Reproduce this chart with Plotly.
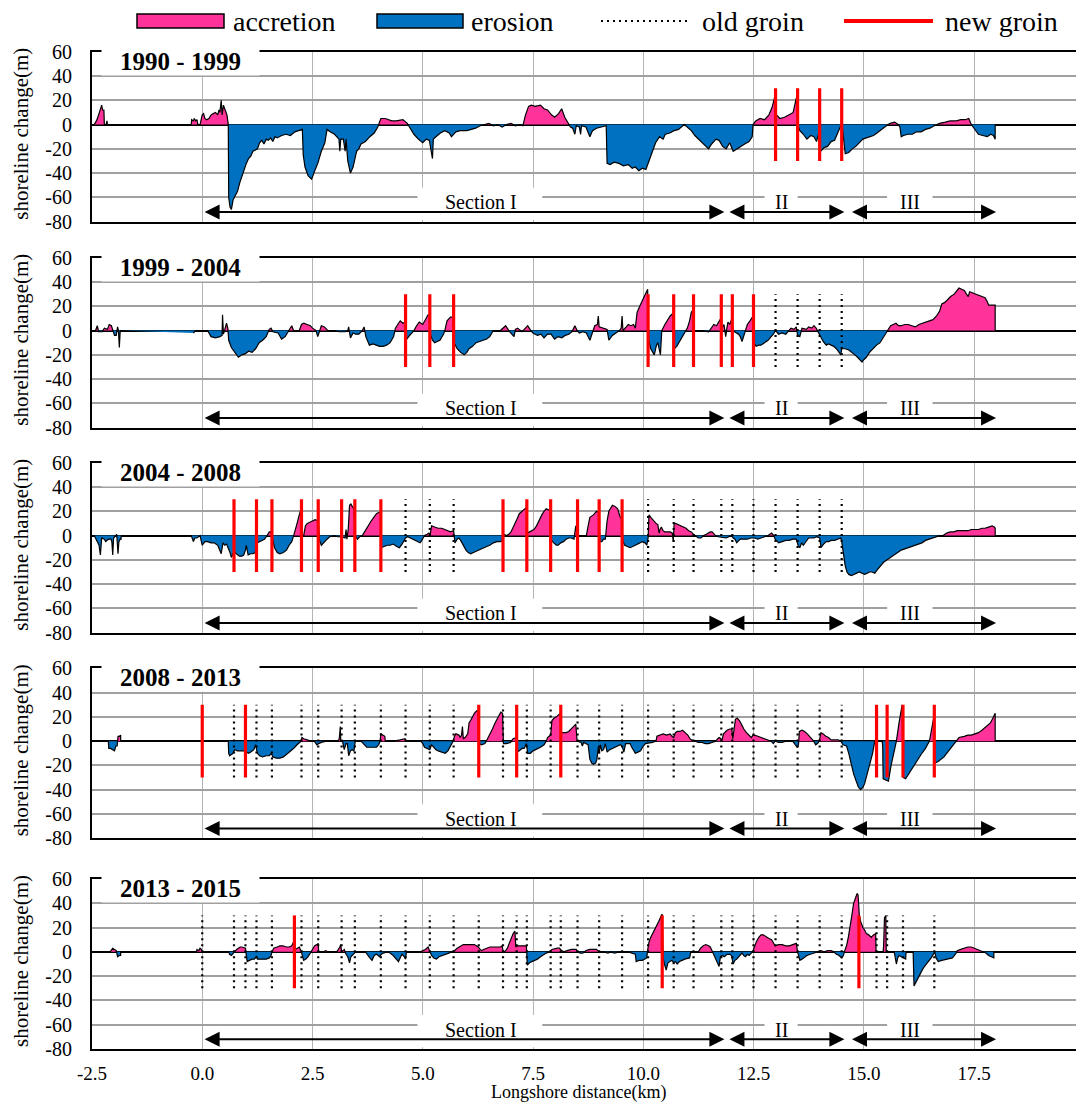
import plotly.graph_objects as go

# ---------------------------------------------------------------- data
PERIODS = ["1990 - 1999", "1999 - 2004", "2004 - 2008", "2008 - 2013", "2013 - 2015"]

# (longshore distance km, shoreline change m) — one list per data segment
s9099_a = [(-2.45,0),(-2.4,3),(-2.35,8),(-2.3,15),(-2.28,16),(-2.26,12),(-2.23,12),(-2.22,0),(-2.18,0),(-2.16,3),(-2.15,0)]
s9099_b = [(-0.25,0),(-0.24,4),(-0.2,3),(-0.18,5),(-0.15,3),(-0.12,4),(-0.1,0),(-0.05,0),(0.0,8),(0.03,9),(0.06,5),(0.1,4),(0.15,5),
           (0.2,8),(0.25,9),(0.3,10),(0.35,8),(0.38,12),(0.4,10),(0.43,20),(0.45,8),(0.48,16),(0.52,12),(0.56,8),(0.59,0),(0.6,-60),
           (0.63,-68),(0.66,-70),(0.7,-62),(0.75,-58),(0.8,-55),(0.85,-48),(0.9,-42),(0.95,-36),(1.0,-32),(1.05,-28),(1.1,-26),
           (1.15,-22),(1.2,-21),(1.25,-20),(1.3,-15),(1.35,-13),(1.4,-16),(1.45,-12),(1.5,-13),(1.55,-11),(1.6,-14),(1.65,-10),
           (1.7,-11),(1.8,-9),(1.9,-8),(2.0,-9),(2.1,-6),(2.2,-5),(2.27,-4),(2.29,-25),(2.33,-35),(2.4,-42),(2.48,-45),(2.55,-38),
           (2.62,-32),(2.7,-22),(2.78,-15),(2.83,-4),(2.9,-6),(3.0,-8),(3.05,-10),(3.1,-12),(3.12,-22),(3.14,-12),(3.2,-12),
           (3.24,-22),(3.26,-12),(3.3,-30),(3.36,-40),(3.42,-35),(3.5,-22),(3.55,-20),(3.6,-16),(3.7,-14),(3.8,-10),(3.9,-7),
           (3.98,-2),(4.05,5),(4.15,5),(4.3,3),(4.4,3),(4.55,4),(4.65,1),(4.72,-3),(4.8,-8),(4.9,-12),(5.0,-15),(5.08,-12),
           (5.15,-13),(5.22,-28),(5.24,-12),(5.3,-10),(5.4,-7),(5.5,-5),(5.6,-7),(5.65,-10),(5.75,-6),(5.85,-5),(6.0,-5),(6.1,-4),
           (6.2,-3),(6.3,-1),(6.4,0),(6.5,1),(6.6,-1),(6.7,0),(6.8,-2),(6.9,0),(7.0,1),(7.1,-1),(7.2,0),(7.27,-1),(7.33,8),(7.4,15),
           (7.46,16),(7.55,15),(7.67,16),(7.75,13),(7.83,12),(7.92,8),(7.99,6),(8.08,9),(8.15,13),(8.22,6),(8.3,1),(8.35,-2),
           (8.4,-3),(8.45,-8),(8.48,-1),(8.55,-2),(8.58,-8),(8.6,-1),(8.7,-2),(8.79,-10),(8.85,-5),(8.94,-3),(9.05,-2),(9.16,-1),
           (9.18,-32),(9.25,-33),(9.34,-31),(9.45,-32),(9.55,-34),(9.66,-33),(9.75,-36),(9.82,-35),(9.9,-38),(9.98,-36),(10.06,-37),
           (10.13,-30),(10.2,-22),(10.28,-15),(10.37,-10),(10.45,-12),(10.5,-8),(10.6,-7),(10.7,-5),(10.8,-4),(10.93,0),(11.0,-2),
           (11.09,-5),(11.17,-9),(11.25,-12),(11.35,-15),(11.48,-20),(11.55,-16),(11.65,-12),(11.72,-13),(11.8,-18),(11.88,-20),
           (11.96,-15),(12.04,-22),(12.12,-20),(12.2,-18),(12.3,-16),(12.4,-14),(12.47,-10),(12.49,0),(12.55,3),(12.65,5),
           (12.75,4),(12.85,8),(12.92,14),(12.99,24),(13.02,8),(13.1,5),(13.2,6),(13.31,8),(13.4,10),(13.47,22),(13.5,0),
           (13.55,-5),(13.63,-8),(13.71,-12),(13.8,-9),(13.87,-10),(13.93,-14),(13.97,-8),(14.02,-22),(14.1,-19),(14.18,-18),
           (14.26,-14),(14.34,-13),(14.42,-6),(14.48,-1),(14.52,-4),(14.58,-24),(14.66,-23),(14.74,-20),(14.82,-18),(14.9,-15),
           (14.98,-12),(15.06,-11),(15.14,-10),(15.22,-9),(15.3,-7),(15.4,-4),(15.5,-1),(15.6,1),(15.7,2),(15.78,0),(15.82,-2),
           (15.85,-10),(15.9,-9),(16.0,-8),(16.1,-8),(16.2,-6),(16.3,-6),(16.4,-4),(16.5,-3),(16.6,-1),(16.72,1),(16.85,2),
           (16.96,3),(17.1,3),(17.2,4),(17.3,4),(17.38,5),(17.44,0),(17.5,-3),(17.6,-8),(17.7,-9),(17.8,-10),(17.88,-8),
           (17.94,-9),(17.98,-12),(17.98,0)]

s9904_a = [(-2.45,0),(-2.42,0),(-2.38,4),(-2.35,-1),(-2.27,-1),(-2.22,2),(-2.15,1),(-2.11,5),(-2.06,4),(-2.03,0),(-1.99,-4),
           (-1.95,-4),(-1.92,3),(-1.9,0),(-1.88,-14),(-1.86,0)]
s9904_b = [(-0.2,-2),(-0.15,0),(0.0,0),(0.12,0),(0.2,-5),(0.3,-6),(0.4,-5),(0.45,-4),(0.46,13),(0.48,-3),(0.52,2),(0.55,6),
           (0.58,2),(0.6,-8),(0.66,-14),(0.74,-18),(0.82,-22),(0.9,-20),(0.98,-19),(1.05,-17),(1.13,-18),(1.21,-15),(1.29,-10),
           (1.37,-8),(1.45,-5),(1.52,1),(1.56,2),(1.6,-1),(1.72,-2),(1.8,-7),(1.88,-5),(1.95,-1),(2.0,2),(2.03,4),(2.07,0),
           (2.2,0),(2.25,5),(2.3,6),(2.38,5),(2.45,4),(2.5,2),(2.58,0),(2.62,-5),(2.67,1),(2.7,4),(2.77,3),(2.85,0),(3.0,0),
           (3.1,-1),(3.24,-1),(3.3,0),(3.32,3),(3.36,-6),(3.42,-2),(3.48,-3),(3.55,-3),(3.63,0),(3.67,3),(3.71,-5),(3.79,-12),
           (3.87,-11),(3.95,-12),(4.02,-13),(4.1,-13),(4.18,-12),(4.26,-10),(4.34,-5),(4.38,2),(4.45,6),(4.49,8),(4.55,6),
           (4.6,7),(4.62,-8),(4.68,-5),(4.73,-3),(4.8,0),(4.86,4),(4.92,7),(5.0,5),(5.06,9),(5.12,13),(5.15,13),(5.17,-3),
           (5.22,-8),(5.27,-10),(5.33,-9),(5.39,-8),(5.47,-3),(5.5,0),(5.55,8),(5.63,11),(5.69,11),(5.71,-10),(5.78,-15),
           (5.86,-18),(5.94,-20),(6.0,-18),(6.05,-15),(6.13,-13),(6.21,-10),(6.3,-9),(6.37,-8),(6.45,-7),(6.52,-5),(6.6,0),
           (6.76,0),(6.82,2),(6.88,4),(6.95,0),(6.99,-2),(7.07,-5),(7.1,1),(7.15,2),(7.25,-1),(7.3,1),(7.38,4),(7.45,0),
           (7.5,-2),(7.6,-4),(7.68,-3),(7.75,-6),(7.83,-3),(7.91,-3),(7.99,-7),(8.07,-5),(8.15,-6),(8.23,-4),(8.31,-3),
           (8.38,-1),(8.45,4),(8.5,0),(8.55,-2),(8.63,-1),(8.71,-2),(8.79,-8),(8.84,-2),(8.9,4),(8.96,5),(8.98,12),(9.0,3),
           (9.1,2),(9.18,1),(9.22,-8),(9.3,-4),(9.38,-2),(9.46,0),(9.5,2),(9.52,12),(9.54,0),(9.6,3),(9.66,5),(9.72,4),
           (9.78,5),(9.82,2),(9.86,15),(9.92,20),(9.98,25),(10.04,30),(10.1,34),(10.12,-8),(10.17,-15),(10.25,-20),(10.3,-12),
           (10.33,-10),(10.39,-20),(10.42,0),(10.49,5),(10.55,9),(10.61,12),(10.67,14),(10.7,-15),(10.76,-13),(10.81,-10),
           (10.87,-6),(10.93,-3),(11.0,2),(11.05,8),(11.09,15),(11.13,17),(11.15,0),(11.33,0),(11.48,-1),(11.55,2),(11.6,5),
           (11.66,4),(11.72,8),(11.76,10),(11.78,2),(11.83,5),(11.87,-5),(11.9,4),(11.92,7),(11.96,5),(12.01,10),(12.03,0),
           (12.08,-1),(12.16,-3),(12.2,-5),(12.24,-9),(12.3,-2),(12.36,5),(12.42,8),(12.49,12),(12.51,-10),(12.56,-13),
           (12.62,-12),(12.67,-12),(12.75,-10),(12.83,-8),(12.9,-5),(12.95,-3),(13.0,0),(13.07,-3),(13.15,-2),(13.23,-3),
           (13.3,0),(13.35,2),(13.42,1),(13.47,3),(13.5,-4),(13.55,-5),(13.6,2),(13.7,1),(13.75,3),(13.82,2),(13.87,4),
           (13.92,2),(13.95,0),(14.03,-5),(14.08,-9),(14.15,-12),(14.2,-11),(14.26,-12),(14.32,-13),(14.38,-15),(14.44,-18),
           (14.48,-20),(14.5,-15),(14.58,-15),(14.66,-16),(14.74,-18),(14.8,-20),(14.86,-22),(14.92,-25),(14.96,-26),(15.0,-24),
           (15.06,-22),(15.13,-18),(15.21,-15),(15.29,-12),(15.37,-10),(15.45,-5),(15.53,0),(15.58,3),(15.61,4),(15.67,5),
           (15.73,6),(15.79,4),(15.85,4),(15.93,5),(16.01,5),(16.09,4),(16.17,3),(16.25,5),(16.33,6),(16.41,7),(16.49,8),
           (16.57,9),(16.65,12),(16.72,16),(16.77,22),(16.83,23),(16.89,25),(16.97,28),(17.05,30),(17.11,33),(17.16,35),
           (17.22,34),(17.28,33),(17.33,30),(17.37,28),(17.4,32),(17.48,31),(17.56,30),(17.64,29),(17.7,28),(17.75,27),
           (17.8,24),(17.83,21),(17.9,21),(17.98,21),(17.98,0)]

s0408_a = [(-2.45,0),(-2.42,-2),(-2.37,-5),(-2.34,-8),(-2.31,-16),(-2.28,-2),(-2.22,-3),(-2.19,-5),(-2.13,-3),(-2.07,-3),
           (-2.05,-5),(-2.03,-16),(-2.01,-2),(-1.97,0),(-1.94,1),(-1.91,-15),(-1.89,-5),(-1.86,-3),(-1.84,-3),(-1.84,0)]
s0408_b = [(-0.25,0),(-0.23,-3),(-0.2,-5),(-0.17,-2),(-0.12,-2),(-0.05,0),(0.0,-8),(0.06,-5),(0.12,-5),(0.2,-6),(0.27,-6),
           (0.35,-8),(0.43,-15),(0.47,-6),(0.51,-8),(0.55,-7),(0.59,-10),(0.63,-14),(0.66,-18),(0.7,-15),(0.74,-14),(0.78,-15),
           (0.84,-17),(0.9,-17),(0.94,-16),(0.98,-12),(1.0,-8),(1.04,-16),(1.1,-15),(1.15,-15),(1.2,-14),(1.24,-6),(1.29,-5),
           (1.35,-4),(1.41,-3),(1.47,0),(1.52,3),(1.56,3),(1.6,-5),(1.64,-10),(1.7,-14),(1.76,-15),(1.84,-14),(1.91,-12),
           (1.97,-8),(2.03,-5),(2.09,2),(2.15,10),(2.2,17),(2.24,22),(2.27,0),(2.3,0),(2.34,8),(2.38,10),(2.44,11),(2.5,12),
           (2.56,13),(2.63,12),(2.66,-4),(2.7,-8),(2.77,-5),(2.83,-3),(2.89,-1),(3.0,0),(3.06,-1),(3.16,-1),(3.24,-2),
           (3.26,5),(3.28,-3),(3.31,5),(3.34,25),(3.37,26),(3.4,24),(3.44,22),(3.47,0),(3.52,-3),(3.57,-1),(3.63,0),(3.68,3),
           (3.71,5),(3.77,8),(3.83,12),(3.89,15),(3.95,18),(4.0,19),(4.04,19),(4.06,-10),(4.12,-9),(4.2,-8),(4.26,-8),
           (4.33,-7),(4.41,-9),(4.47,-10),(4.53,-7),(4.58,-4),(4.61,-2),(4.66,-1),(4.72,-2),(4.77,-3),(4.83,-4),(4.88,-5),
           (4.94,-6),(4.98,-4),(5.04,0),(5.1,1),(5.14,2),(5.17,1),(5.2,8),(5.27,7),(5.35,6),(5.43,6),(5.51,5),(5.57,4),
           (5.63,3),(5.7,4),(5.73,-6),(5.78,-3),(5.82,-2),(5.86,-4),(5.92,-8),(5.98,-12),(6.03,-14),(6.09,-15),(6.15,-14),
           (6.21,-13),(6.3,-11),(6.37,-10),(6.45,-9),(6.52,-8),(6.6,-6),(6.68,-5),(6.76,-5),(6.81,-4),(6.84,1),(6.9,0),
           (6.95,1),(7.0,3),(7.07,8),(7.13,13),(7.19,18),(7.25,20),(7.3,22),(7.35,23),(7.37,2),(7.42,3),(7.47,4),(7.52,5),
           (7.58,8),(7.63,12),(7.7,17),(7.75,20),(7.8,22),(7.86,21),(7.89,21),(7.92,-4),(7.97,-6),(8.03,-8),(8.07,-8),
           (8.13,-6),(8.19,-5),(8.25,-3),(8.31,-2),(8.37,-2),(8.43,-3),(8.47,8),(8.5,0),(8.71,0),(8.75,8),(8.79,15),(8.87,17),
           (8.94,20),(8.99,19),(9.02,-5),(9.06,-5),(9.1,-3),(9.14,-3),(9.18,12),(9.22,20),(9.26,23),(9.3,25),(9.36,24),
           (9.42,22),(9.48,15),(9.51,14),(9.54,-5),(9.58,-8),(9.64,-9),(9.7,-10),(9.76,-9),(9.82,-8),(9.9,-6),(9.98,-5),
           (10.04,-6),(10.08,-8),(10.11,-2),(10.13,17),(10.17,15),(10.21,13),(10.25,12),(10.29,10),(10.33,9),(10.36,2),
           (10.38,5),(10.41,7),(10.45,4),(10.49,3),(10.61,3),(10.66,2),(10.68,-5),(10.7,10),(10.73,10),(10.79,9),(10.85,8),
           (10.91,7),(10.97,6),(11.03,4),(11.09,3),(11.14,1),(11.17,0),(11.25,-2),(11.31,-2),(11.37,0),(11.43,1),(11.48,2),
           (11.52,3),(11.56,3),(11.6,1),(11.64,0),(11.7,-1),(11.82,-2),(11.88,-2),(11.94,-1),(12.0,0),(12.04,-2),(12.08,-3),
           (12.12,-6),(12.16,-4),(12.2,-3),(12.36,-3),(12.44,-2),(12.52,-2),(12.6,-3),(12.67,-2),(12.75,-1),(12.83,0),
           (12.91,2),(12.96,0),(12.99,-3),(13.03,-5),(13.07,-6),(13.15,-5),(13.23,-4),(13.31,-4),(13.39,-3),(13.47,-3),
           (13.51,-8),(13.55,-10),(13.59,-6),(13.63,-8),(13.69,-5),(13.75,-2),(13.87,-2),(13.93,-1),(14.0,-2),(14.03,-10),
           (14.09,-7),(14.15,-5),(14.2,-5),(14.27,-4),(14.34,-4),(14.41,-3),(14.48,-2),(14.5,-5),(14.54,-15),(14.58,-25),
           (14.62,-30),(14.66,-32),(14.72,-33),(14.78,-32),(14.84,-31),(14.9,-30),(14.96,-31),(15.02,-32),(15.08,-31),
           (15.13,-30),(15.19,-30),(15.25,-31),(15.31,-28),(15.37,-25),(15.45,-22),(15.53,-20),(15.61,-18),(15.69,-16),
           (15.77,-14),(15.85,-12),(15.93,-11),(16.0,-10),(16.08,-9),(16.16,-8),(16.24,-7),(16.32,-6),(16.4,-4),(16.48,-3),
           (16.56,-2),(16.64,-1),(16.72,0),(16.8,0),(16.88,2),(16.96,3),(17.04,3),(17.12,4),(17.28,4),(17.36,4),(17.44,5),
           (17.6,5),(17.68,6),(17.75,6),(17.83,7),(17.91,8),(17.96,7),(17.98,6),(17.98,0)]

s0813_a = [(-2.13,0),(-2.12,-6),(-2.08,-6),(-2.04,-7),(-1.99,-8),(-1.96,-4),(-1.93,-4),(-1.92,0),(-1.91,4),(-1.88,4),
           (-1.85,5),(-1.85,0)]
s0813_b = [(0.59,0),(0.6,-10),(0.62,-12),(0.66,-11),(0.7,-10),(0.72,-8),(0.74,-7),(0.8,-8),(0.98,-8),(1.0,-9),(1.05,-10),
           (1.1,-9),(1.17,-7),(1.21,-3),(1.23,-6),(1.25,-10),(1.3,-12),(1.37,-13),(1.45,-12),(1.52,-12),(1.57,-10),(1.6,-13),
           (1.68,-14),(1.76,-14),(1.84,-13),(1.91,-11),(1.99,-8),(2.07,-6),(2.15,-3),(2.22,-1),(2.24,0),(2.26,3),(2.3,2),
           (2.38,1),(2.46,0),(2.54,0),(2.58,-2),(2.6,-3),(2.64,-2),(2.7,-1),(2.81,0),(3.09,0),(3.11,3),(3.13,12),(3.14,0),
           (3.18,0),(3.22,-7),(3.26,-2),(3.29,-2),(3.32,-12),(3.36,-8),(3.4,-7),(3.44,-8),(3.47,0),(3.6,0),(3.67,-3),
           (3.73,-5),(3.87,-5),(3.95,-5),(4.0,-3),(4.03,-1),(4.05,6),(4.1,5),(4.14,4),(4.15,0),(4.34,0),(4.49,1),(4.6,2),
           (4.62,0),(4.96,0),(5.0,-2),(5.04,-5),(5.1,-6),(5.16,-7),(5.2,-3),(5.24,-5),(5.3,-7),(5.35,-8),(5.43,-9),(5.51,-10),
           (5.57,-8),(5.62,-5),(5.68,-1),(5.72,4),(5.75,6),(5.82,5),(5.85,3),(5.88,5),(5.9,12),(5.92,2),(5.96,3),(6.02,6),
           (6.05,15),(6.1,18),(6.17,23),(6.22,25),(6.26,25),(6.28,-2),(6.33,-3),(6.41,-2),(6.47,2),(6.52,5),(6.58,10),
           (6.64,15),(6.7,19),(6.77,24),(6.81,23),(6.83,-2),(6.9,-2),(6.99,-1),(7.05,2),(7.12,3),(7.14,-9),(7.19,-8),
           (7.25,-6),(7.3,-6),(7.35,-2),(7.38,-10),(7.44,-10),(7.5,-8),(7.56,-7),(7.62,-6),(7.67,-5),(7.75,-3),(7.8,0),
           (7.83,3),(7.9,5),(7.93,17),(7.98,19),(8.03,20),(8.08,22),(8.12,23),(8.14,7),(8.25,7),(8.31,8),(8.36,10),(8.41,12),
           (8.47,14),(8.5,0),(8.59,-1),(8.62,-4),(8.65,-1),(8.75,-3),(8.79,-15),(8.83,-18),(8.87,-19),(8.92,-18),(8.95,-15),
           (8.98,-5),(9.0,-10),(9.03,-3),(9.06,-8),(9.1,-7),(9.14,-2),(9.18,-9),(9.24,-7),(9.3,-6),(9.36,-5),(9.42,-4),
           (9.48,-3),(9.52,-4),(9.56,-9),(9.6,-2),(9.7,-2),(9.74,-5),(9.78,-8),(9.82,-10),(9.88,-9),(9.94,-8),(10.0,-4),
           (10.05,-2),(10.21,-1),(10.29,0),(10.31,4),(10.37,5),(10.45,6),(10.53,5),(10.61,6),(10.65,4),(10.69,3),(10.73,7),
           (10.77,8),(10.83,8),(10.89,9),(10.95,7),(11.01,5),(11.06,2),(11.09,1),(11.17,0),(11.25,-1),(11.33,-1),(11.41,-2),
           (11.48,-2),(11.56,-1),(11.64,0),(11.69,2),(11.72,3),(11.76,2),(11.78,0),(11.82,6),(11.86,8),(11.9,9),(11.96,10),
           (12.01,10),(12.03,2),(12.06,10),(12.09,18),(12.13,19),(12.18,17),(12.24,13),(12.28,10),(12.34,7),(12.4,5),
           (12.45,3),(12.49,5),(12.52,5),(12.6,4),(12.67,3),(12.75,2),(12.83,1),(12.9,0),(12.95,-2),(12.99,0),(13.07,-1),
           (13.15,-1),(13.23,0),(13.39,0),(13.45,-3),(13.49,-5),(13.52,-3),(13.54,8),(13.6,9),(13.66,8),(13.72,6),(13.79,3),
           (13.85,1),(13.91,-3),(13.95,-2),(13.99,0),(14.03,7),(14.08,6),(14.14,4),(14.2,3),(14.26,1),(14.42,1),(14.48,0),
           (14.53,-3),(14.61,-4),(14.66,-10),(14.71,-18),(14.77,-27),(14.83,-33),(14.88,-38),(14.93,-40),(14.98,-38),
           (15.02,-35),(15.06,-30),(15.1,-24),(15.15,-17),(15.2,-10),(15.25,0),(15.42,0),(15.43,-5),(15.44,-31),(15.5,-32),
           (15.56,-33),(15.62,-20),(15.7,-5),(15.74,0),(15.8,15),(15.87,30),(15.9,-30),(15.95,-31),(16.0,-28),(16.1,-22),
           (16.2,-16),(16.3,-11),(16.4,-6),(16.47,-2),(16.5,2),(16.55,12),(16.59,20),(16.61,-18),(16.68,-17),(16.76,-15),
           (16.82,-13),(16.88,-10),(16.96,-6),(17.04,-3),(17.1,0),(17.16,3),(17.28,4),(17.36,5),(17.44,5),(17.52,6),
           (17.6,7),(17.68,9),(17.75,11),(17.82,13),(17.87,15),(17.93,19),(17.98,23),(17.98,0)]

s1315_a = [(-2.09,0),(-2.06,2),(-2.03,3),(-1.99,2),(-1.95,1),(-1.92,-4),(-1.88,-3),(-1.85,-3),(-1.85,0)]
s1315_b = [(-0.13,0),(-0.12,2),(-0.08,1),(-0.05,3),(-0.02,2),(0.0,0)]
s1315_c = [(0.6,0),(0.62,-2),(0.66,-3),(0.7,-1),(0.74,0),(0.78,2),(0.82,3),(0.86,4),(0.9,4),(0.95,3),(0.98,3),(1.0,-5),
           (1.02,-8),(1.07,-7),(1.13,-6),(1.18,-6),(1.23,-4),(1.25,-6),(1.45,-6),(1.52,-5),(1.56,-3),(1.58,0),(1.62,3),
           (1.7,4),(1.76,5),(1.83,5),(1.91,4),(1.97,4),(2.03,5),(2.07,8),(2.09,7),(2.11,2),(2.16,3),(2.2,4),(2.24,1),
           (2.27,-3),(2.3,-7),(2.35,-6),(2.4,-4),(2.45,-1),(2.5,2),(2.55,5),(2.6,6),(2.63,7),(2.64,0),(2.75,0),(2.8,1),
           (2.85,0),(3.05,0),(3.09,2),(3.12,4),(3.14,6),(3.16,0),(3.22,2),(3.26,-2),(3.3,-4),(3.34,-9),(3.37,-4),(3.4,-3),
           (3.45,-1),(3.48,0),(3.7,0),(3.75,-3),(3.8,-5),(3.85,-7),(3.9,-3),(3.95,-2),(4.02,-4),(4.06,-2),(4.1,-1),(4.2,0),
           (4.26,-1),(4.33,-3),(4.38,-5),(4.45,-8),(4.5,-4),(4.53,-2),(4.58,-4),(4.61,-6),(4.63,0),(4.96,0),(5.0,1),
           (5.06,2),(5.12,4),(5.16,1),(5.2,-3),(5.25,-5),(5.31,-6),(5.37,-4),(5.43,-3),(5.5,-2),(5.59,-1),(5.66,0),(5.72,1),
           (5.78,3),(5.86,5),(5.92,6),(6.17,6),(6.22,5),(6.26,4),(6.3,2),(6.33,1),(6.38,2),(6.45,3),(6.52,4),(6.76,4),
           (6.8,5),(6.82,1),(6.84,0),(6.88,1),(6.92,3),(6.96,7),(7.0,11),(7.05,15),(7.09,17),(7.11,4),(7.15,5),(7.35,5),
           (7.37,-11),(7.42,-9),(7.48,-8),(7.55,-7),(7.6,-6),(7.67,-4),(7.75,-2),(7.8,-1),(7.87,0),(7.93,2),(8.05,3),
           (8.1,3),(8.15,1),(8.2,0),(8.27,1),(8.37,2),(8.48,2),(8.51,0),(8.57,-1),(8.63,-1),(8.7,1),(8.79,2),(8.94,2),
           (9.0,0),(9.1,0),(9.2,-1),(9.26,0),(9.35,-1),(9.45,0),(9.66,0),(9.74,-1),(9.82,-2),(9.84,-8),(9.9,-7),(9.98,-7),
           (10.04,-6),(10.08,-5),(10.1,2),(10.13,8),(10.17,12),(10.23,16),(10.29,20),(10.35,25),(10.41,30),(10.43,31),
           (10.45,-5),(10.48,-10),(10.52,-15),(10.56,-9),(10.6,-8),(10.65,-7),(10.69,-9),(10.73,-8),(10.77,-10),(10.82,-8),
           (10.88,-7),(10.94,-6),(11.05,-5),(11.08,0),(11.25,0),(11.3,3),(11.36,5),(11.42,6),(11.48,5),(11.52,4),(11.56,1),
           (11.6,-2),(11.64,-5),(11.68,-8),(11.72,-12),(11.75,-4),(11.79,-3),(11.84,-4),(11.9,-2),(11.96,-2),(12.0,-3),
           (12.04,-10),(12.08,-7),(12.12,-6),(12.18,-3),(12.24,-1),(12.28,-3),(12.32,-4),(12.36,-2),(12.4,-3),(12.45,-1),
           (12.48,0),(12.52,4),(12.56,8),(12.62,12),(12.67,14),(12.72,14),(12.79,12),(12.85,11),(12.91,10),(12.96,6),
           (12.99,5),(13.07,6),(13.15,6),(13.23,5),(13.31,5),(13.39,6),(13.47,7),(13.5,0),(13.55,-7),(13.6,-6),(13.66,-4),
           (13.71,-3),(13.79,-2),(13.87,-1),(13.95,0),(14.03,1),(14.1,0),(14.18,1),(14.26,1),(14.32,0),(14.38,-2),
           (14.44,-3),(14.5,-5),(14.54,-3),(14.56,0),(14.61,5),(14.65,12),(14.69,20),(14.73,30),(14.77,40),(14.81,45),
           (14.85,48),(14.87,47),(14.9,30),(14.93,25),(14.98,20),(15.02,18),(15.06,15),(15.11,14),(15.17,12),(15.22,14),
           (15.27,15),(15.28,0),(15.44,0),(15.45,5),(15.47,28),(15.5,30),(15.51,0),(15.69,0),(15.71,-3),(15.74,-10),
           (15.77,-5),(15.8,-3),(15.85,-4),(15.9,-5),(15.95,-6),(15.96,0),(16.12,0),(16.14,-28),(16.18,-25),(16.22,-22),
           (16.28,-18),(16.34,-14),(16.4,-11),(16.47,-8),(16.53,-5),(16.58,-2),(16.61,0),(16.64,-5),(16.69,-8),(16.77,-7),
           (16.93,-6),(17.01,-5),(17.08,-2),(17.12,1),(17.2,2),(17.28,3),(17.36,4),(17.44,4),(17.5,3),(17.56,2),(17.64,1),
           (17.71,0),(17.77,-1),(17.83,-3),(17.9,-4),(17.95,-5),(17.95,0)]

SERIES = {
    "1990 - 1999": [s9099_a, s9099_b],
    "1999 - 2004": [s9904_a, s9904_b],
    "2004 - 2008": [s0408_a, s0408_b],
    "2008 - 2013": [s0813_a, s0813_b],
    "2013 - 2015": [s1315_a, s1315_b, s1315_c],
}

# groin positions (km)
new_groins = {
    "1990 - 1999": [13.0, 13.5, 14.0, 14.5],
    "1999 - 2004": [4.61, 5.16, 5.70, 10.11, 10.69, 11.14, 11.77, 12.02, 12.50],
    "2004 - 2008": [0.72, 1.23, 1.58, 2.25, 2.63, 3.16, 3.46, 4.05, 6.82, 7.36, 7.90, 8.51, 9.00, 9.52],
    "2008 - 2013": [0.0, 0.98, 6.27, 7.13, 8.13, 15.29, 15.53, 15.89, 16.60],
    "2013 - 2015": [2.09, 10.43, 14.89],
}
old_groins = {
    "1990 - 1999": [],
    "1999 - 2004": [13.0, 13.5, 14.0, 14.5],
    "2004 - 2008": [4.61, 5.16, 5.70, 10.11, 10.69, 11.14, 11.77, 12.02, 12.50, 13.0, 13.5, 14.0, 14.5],
    "2008 - 2013": [0.72, 1.23, 1.58, 2.25, 2.63, 3.16, 3.46, 4.05, 4.61, 5.16, 5.70, 6.82, 7.36, 7.90, 8.51,
                    9.00, 9.52, 10.11, 10.69, 11.14, 11.77, 12.02, 12.50, 13.0, 13.5, 14.0, 14.5],
    "2013 - 2015": [0.0, 0.72, 0.98, 1.23, 1.58, 2.25, 2.63, 3.16, 3.46, 4.05, 4.61, 5.16, 5.70, 6.27, 6.82, 7.13,
                    7.36, 7.90, 8.13, 8.51, 9.00, 9.52, 10.11, 10.69, 11.14, 11.77, 12.02, 12.50, 13.0, 13.5, 14.0,
                    14.5, 15.29, 15.53, 15.89, 16.60],
}
GROIN_HALF = 30

# sections: (label, start km, end km, label centre km, blank-box start, blank-box end)
sections = [("Section I", 0.02, 11.84, 6.33, 4.88, 7.71),
            ("II", 11.92, 14.56, 13.13, 12.75, 13.50),
            ("III", 14.70, 18.00, 16.05, 15.53, 16.56)]
SECTION_Y = -72
LABEL_Y = -64

# tick labels
x_tickvals = [-2.5, 0.0, 2.5, 5.0, 7.5, 10.0, 12.5, 15.0, 17.5]
x_ticktext = ["-2.5", "0.0", "2.5", "5.0", "7.5", "10.0", "12.5", "15.0", "17.5"]
y_tickvals = [-80, -60, -40, -20, 0, 20, 40, 60]
y_ticktext = ["-80", "-60", "-40", "-20", "0", "20", "40", "60"]

# ---------------------------------------------------------------- layout constants
FONT = "Liberation Serif"
W, H = 1076, 1102
L_PX = 92
PANEL_TOP = [51.7, 257.7, 462.7, 668.3, 879.0]
PANEL_H = 170.0
PX_PER_KM = 44.1
X0 = -2.5
X1 = X0 + (W - L_PX) / PX_PER_KM
PINK = "#FF3399"
BLUE = "#0070C0"


def pxx(p):
    return (p - L_PX) / (W - L_PX)


def pxy(p):
    return 1 - p / H


def with_crossings(seg):
    xs, ys = [], []
    for k, (x, y) in enumerate(seg):
        if k > 0:
            xp, yp = seg[k - 1]
            if (yp > 0 and y < 0) or (yp < 0 and y > 0):
                xc = xp + (0 - yp) * (x - xp) / (y - yp)
                xs.append(xc)
                ys.append(0)
        xs.append(x)
        ys.append(y)
    return xs, ys


fig = go.Figure()
annotations = []
shapes = []

for i, period in enumerate(PERIODS):
    n = i + 1
    xa = "x" if n == 1 else f"x{n}"
    ya = "y" if n == 1 else f"y{n}"
    X, Y = [], []
    for seg in SERIES[period]:
        xs, ys = with_crossings(seg)
        if X:
            X.append(None)
            Y.append(None)
        X += xs
        Y += ys
    ypos = [None if v is None else max(v, 0) for v in Y]
    yneg = [None if v is None else min(v, 0) for v in Y]
    fig.add_trace(go.Scatter(x=X, y=ypos, mode="lines", fill="tozeroy", fillcolor=PINK,
                             line=dict(width=0, color=PINK), xaxis=xa, yaxis=ya,
                             showlegend=False, hoverinfo="skip"))
    fig.add_trace(go.Scatter(x=X, y=yneg, mode="lines", fill="tozeroy", fillcolor=BLUE,
                             line=dict(width=0, color=BLUE), xaxis=xa, yaxis=ya,
                             showlegend=False, hoverinfo="skip"))
    fig.add_trace(go.Scatter(x=X, y=Y, mode="lines", line=dict(width=1.2, color="black"),
                             xaxis=xa, yaxis=ya, showlegend=False))
    # groins
    gx, gy = [], []
    for g in old_groins[period]:
        gx += [g, g, None]
        gy += [-GROIN_HALF, GROIN_HALF, None]
    if gx:
        fig.add_trace(go.Scatter(x=gx, y=gy, mode="lines",
                                 line=dict(width=2.2, color="black", dash="2px,4px"),
                                 xaxis=xa, yaxis=ya, showlegend=False, hoverinfo="skip"))
    gx, gy = [], []
    for g in new_groins[period]:
        gx += [g, g, None]
        gy += [-GROIN_HALF, GROIN_HALF, None]
    fig.add_trace(go.Scatter(x=gx, y=gy, mode="lines", line=dict(width=3.2, color="#FF0000"),
                             xaxis=xa, yaxis=ya, showlegend=False, hoverinfo="skip"))

    top, bot = PANEL_TOP[i], PANEL_TOP[i] + PANEL_H
    fig.layout[f"xaxis{'' if n == 1 else n}"] = dict(
        domain=[0, 1], anchor=ya, range=[X0, X1],
        tickmode="array", tickvals=x_tickvals, ticktext=x_ticktext,
        showgrid=True, gridcolor="#B4B4B4", gridwidth=1.2, zeroline=False,
        showline=True, mirror=True, linecolor="black", linewidth=2,
        showticklabels=(n == 5), ticks="",
        ticklabelstandoff=6, tickfont=dict(family=FONT, size=19, color="black"),
    )
    fig.layout[f"yaxis{'' if n == 1 else n}"] = dict(
        domain=[pxy(bot), pxy(top)], anchor=xa, range=[-80, 60],
        tickmode="array", tickvals=y_tickvals, ticktext=y_ticktext,
        showgrid=True, gridcolor="#A0A0A0", gridwidth=1.6,
        zeroline=True, zerolinecolor="black", zerolinewidth=2,
        showline=True, mirror=False, linecolor="black", linewidth=2, ticks="",
        ticklabelstandoff=14, tickfont=dict(family=FONT, size=20, color="black"),
    )

    # panel title with white box over the top border
    annotations.append(dict(xref="paper", yref="paper", x=pxx(180.5), y=pxy(top + 8.8),
                            xanchor="center", yanchor="middle", width=155, height=26,
                            bgcolor="white", borderpad=1, showarrow=False,
                            text=f"<b>{period}</b>",
                            font=dict(family=FONT, size=25, color="black")))
    # y-axis title
    annotations.append(dict(xref="paper", yref="paper", x=pxx(21), y=pxy(top + PANEL_H / 2 - 3),
                            xanchor="center", yanchor="middle", textangle=-90, showarrow=False,
                            text="shoreline change(m)",
                            font=dict(family=FONT, size=21, color="black")))
    # sections
    for label, s0, s1, sc, b0, b1 in sections:
        shapes.append(dict(type="rect", xref=xa, yref=ya, x0=b0, x1=b1, y0=-78.5, y1=-52,
                           fillcolor="white", line=dict(width=0), layer="between"))
        annotations.append(dict(xref=xa, yref=ya, x=sc, y=LABEL_Y, xanchor="center", yanchor="middle",
                                showarrow=False, text=label,
                                font=dict(family=FONT, size=20, color="black")))
        annotations.append(dict(xref=xa, yref=ya, axref=xa, ayref=ya, x=s1, y=SECTION_Y,
                                ax=s0, ay=SECTION_Y, text="", showarrow=True,
                                arrowhead=2, startarrowhead=2, arrowside="end+start",
                                arrowsize=1.5, startarrowsize=1.5, arrowwidth=2,
                                arrowcolor="black", standoff=0, startstandoff=0))

# x-axis title
annotations.append(dict(xref="paper", yref="paper", x=pxx(578), y=pxy(1092), xanchor="center",
                        yanchor="middle", showarrow=False, text="Longshore distance(km)",
                        font=dict(family=FONT, size=18, color="black")))

# legend (drawn manually to match the original layout)
LEG_Y = 21
shapes.append(dict(type="rect", xref="paper", yref="paper", x0=pxx(137), x1=pxx(224),
                   y0=pxy(28), y1=pxy(14), fillcolor=PINK, line=dict(color="black", width=1.5)))
shapes.append(dict(type="rect", xref="paper", yref="paper", x0=pxx(377), x1=pxx(463),
                   y0=pxy(28), y1=pxy(14), fillcolor=BLUE, line=dict(color="black", width=1.5)))
shapes.append(dict(type="line", xref="paper", yref="paper", x0=pxx(601), x1=pxx(688),
                   y0=pxy(LEG_Y), y1=pxy(LEG_Y), line=dict(color="black", width=2.2, dash="2px,4px")))
shapes.append(dict(type="line", xref="paper", yref="paper", x0=pxx(844), x1=pxx(933),
                   y0=pxy(LEG_Y), y1=pxy(LEG_Y), line=dict(color="#FF0000", width=4)))
for txt, xp in [("accretion", 231), ("erosion", 469), ("old groin", 700), ("new groin", 943)]:
    annotations.append(dict(xref="paper", yref="paper", x=pxx(xp), y=pxy(LEG_Y), xanchor="left",
                            yanchor="middle", showarrow=False, text=txt,
                            font=dict(family=FONT, size=28, color="black")))

fig.update_layout(
    width=W, height=H, autosize=False, template="none",
    margin=dict(l=L_PX, r=0, t=0, b=0),
    paper_bgcolor="white", plot_bgcolor="white",
    font=dict(family=FONT, color="black"),
    showlegend=False, annotations=annotations, shapes=shapes,
)

fig.write_html("out.html")
